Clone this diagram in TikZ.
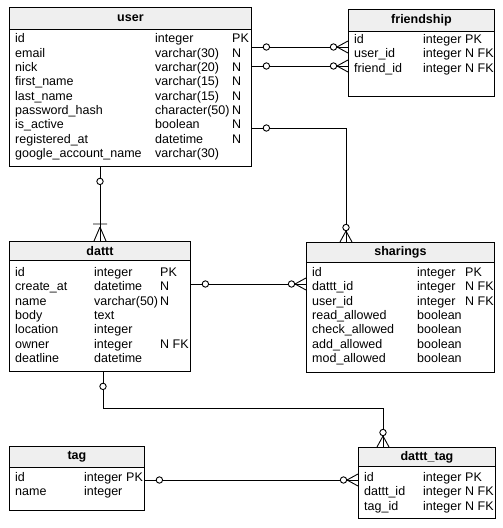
\documentclass[tikz,border=0pt]{standalone}
\usepackage{fontspec}
\setmainfont{Liberation Sans}
\definecolor{hdrgray}{HTML}{EFEFEF}
\newcommand\fs{\fontsize{12.5}{14}\selectfont}
\newcommand\tblrows[6]{%
  \foreach \na/\ty/\fl [count=\i] in {#6} {
    \node[txt] (#1n\i) at (#2,{#5+14.35*(\i-1)}) {\na};
    \node[txt] (#1t\i) at (#3,{#5+14.35*(\i-1)}) {\ty};
    \node[txt] (#1f\i) at (#4,{#5+14.35*(\i-1)}) {\fl};
  }}
\tikzset{
  tbl/.style={draw, line width=0.9pt, fill=white, anchor=north west, inner sep=0pt},
  hdr/.style={draw, line width=0.9pt, fill=hdrgray, anchor=north west, inner sep=0pt, font=\fs\bfseries},
  txt/.style={anchor=base west, inner sep=0pt, font=\fs},
  conn/.style={line width=0.9pt},
  circO/.pic={\draw[conn, fill=white] (-14.5,0) circle (3.2pt);},
  crowO/.pic={\draw[conn] (-11,0) -- (0,6) (-11,0) -- (0,-6);
              \draw[conn, fill=white] (-14.5,0) circle (3.2pt);},
  crowBar/.pic={\draw[conn] (-14,0) -- (0,6) (-14,0) -- (0,-6) (-17,-7) -- (-17,7);},
}
\begin{document}
\begin{tikzpicture}[x=1pt,y=-1pt]
\useasboundingbox (0,0) rectangle (503,528);

% tables: user
\node[tbl, minimum width=242pt, minimum height=159pt] (user) at (9,7) {};
\node[hdr, minimum width=242pt, minimum height=22pt] (userH) at (9,7) {user};
\tblrows{user}{15}{155}{232}{42.8}{id/integer/PK, email/varchar(30)/N, nick/varchar(20)/N,
  first\_name/varchar(15)/N, last\_name/varchar(15)/N, password\_hash/character(50)/N,
  is\_active/boolean/N, registered\_at/datetime/N, google\_account\_name/varchar(30)/{}}

% friendship
\node[tbl, minimum width=146pt, minimum height=87pt] (friendship) at (348,9) {};
\node[hdr, minimum width=146pt, minimum height=22pt] (friendshipH) at (348,9) {friendship};
\tblrows{fr}{354}{423}{465}{43.5}{id/integer/PK, user\_id/integer/N FK, friend\_id/integer/N FK}

% dattt
\node[tbl, minimum width=181pt, minimum height=130pt] (dattt) at (9,241) {};
\node[hdr, minimum width=181pt, minimum height=19pt] (datttH) at (9,241) {dattt};
\tblrows{da}{15}{94}{160}{276.5}{id/integer/PK, create\_at/datetime/N, name/varchar(50)/N,
  body/text/{}, location/integer/{}, owner/integer/N FK, deatline/datetime/{}}

% sharings
\node[tbl, minimum width=188pt, minimum height=130pt] (sharings) at (306,242) {};
\node[hdr, minimum width=188pt, minimum height=20pt] (sharingsH) at (306,242) {sharings};
\tblrows{sh}{312}{417}{465}{276.5}{id/integer/PK, dattt\_id/integer/N FK, user\_id/integer/N FK,
  read\_allowed/boolean/{}, check\_allowed/boolean/{}, add\_allowed/boolean/{}, mod\_allowed/boolean/{}}

% tag
\node[tbl, minimum width=135pt, minimum height=64pt] (tag) at (9,446) {};
\node[hdr, minimum width=135pt, minimum height=21pt] (tagH) at (9,446) {tag};
\tblrows{tg}{15}{84}{126}{481.5}{id/integer/PK, name/integer/{}}

% dattt_tag
\node[tbl, minimum width=137pt, minimum height=71pt] (datttTag) at (358,447) {};
\node[hdr, minimum width=137pt, minimum height=19pt] (datttTagH) at (358,447) {dattt\_tag};
\tblrows{dt}{364}{423}{465}{481.5}{id/integer/PK, dattt\_id/integer/N FK, tag\_id/integer/N FK}

% connectors
\draw[conn] (user.east |- 0,47) -- (friendship.west |- 0,47);
\draw[conn] (user.east |- 0,66) -- (friendship.west |- 0,66);
\draw[conn] (user.east |- 0,128) -| (346,0 |- sharings.north);
\draw[conn] (user.south -| 100,0) -- (dattt.north -| 100,0);
\draw[conn] (dattt.east |- 0,284) -- (sharings.west |- 0,284);
\draw[conn] (dattt.south -| 103,0) -- (103,408) -| (383,0 |- datttTag.north);
\draw[conn] (tag.east |- 0,480) -- (datttTag.west |- 0,480);

% connector ends
\pic[rotate=180] at (user.east |- 0,47) {circO};
\pic at (friendship.west |- 0,47) {crowO};
\pic[rotate=180] at (user.east |- 0,66) {circO};
\pic at (friendship.west |- 0,66) {crowO};
\pic[rotate=180] at (user.east |- 0,128) {circO};
\pic[rotate=-90] at (346,0 |- sharings.north) {crowO};
\pic[rotate=90] at (user.south -| 100,0) {circO};
\pic[rotate=-90] at (dattt.north -| 100,0) {crowBar};
\pic[rotate=180] at (dattt.east |- 0,284) {circO};
\pic at (sharings.west |- 0,284) {crowO};
\pic[rotate=90] at (dattt.south -| 103,0) {circO};
\pic[rotate=-90] at (383,0 |- datttTag.north) {crowO};
\pic[rotate=180] at (tag.east |- 0,480) {circO};
\pic at (datttTag.west |- 0,480) {crowO};
\end{tikzpicture}
\end{document}
